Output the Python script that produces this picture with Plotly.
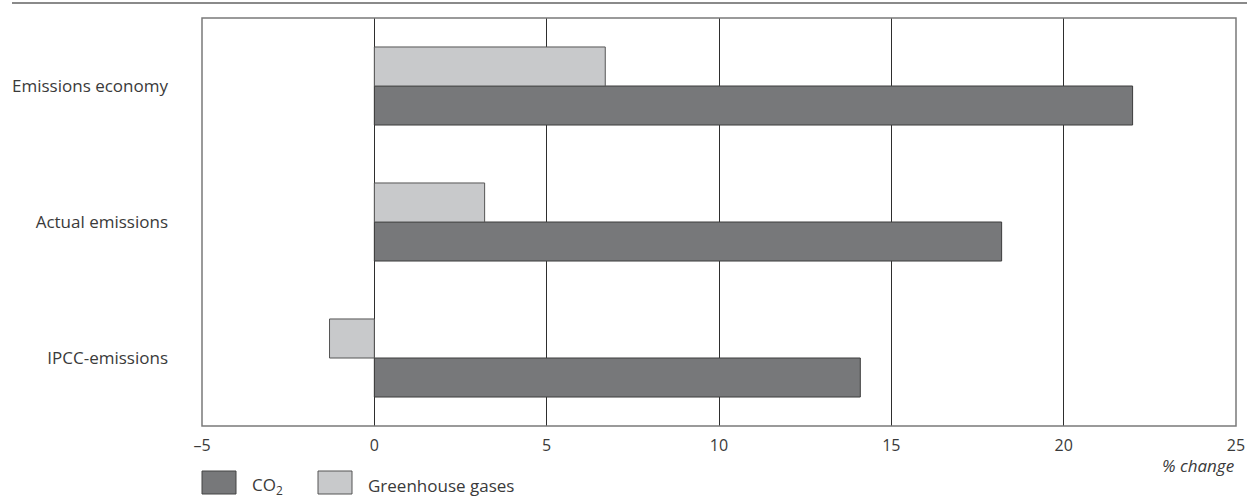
import plotly.graph_objects as go

categories = ["IPCC-emissions", "Actual emissions", "Emissions economy"]
co2_values = [14.1, 18.2, 22.0]
ghg_values = [-1.3, 3.2, 6.7]
x_tickvals = [-5, 0, 5, 10, 15, 20, 25]
x_ticktext = ["\u20135", "0", "5", "10", "15", "20", "25"]

CO2_COLOR = "#77787a"
GHG_COLOR = "#c8c9cb"
TEXT = "#3a3a3a"
FONT = "Open Sans"

fig = go.Figure()
fig.add_trace(go.Bar(
    y=categories, x=co2_values, orientation="h", name="CO<sub>2</sub>",
    marker=dict(color=CO2_COLOR, line=dict(color="#3c3c3c", width=1)),
    showlegend=False, hoverinfo="x+y",
))
fig.add_trace(go.Bar(
    y=categories, x=ghg_values, orientation="h", name="Greenhouse gases",
    marker=dict(color=GHG_COLOR, line=dict(color="#555555", width=1)),
    showlegend=False, hoverinfo="x+y",
))

W, H = 1247, 498
L, R, T, B = 202, 11, 18, 72
plot_h = H - T - B
plot_w = W - L - R

def px_x(x):
    return (x - L) / plot_w

def px_y(y):
    return (H - B - y) / plot_h

shapes = [
    # top rule
    dict(type="line", xref="paper", yref="paper", x0=px_x(12), x1=px_x(1247),
         y0=px_y(3), y1=px_y(3), line=dict(color="#8a8a8a", width=2)),
    # plot frame
    dict(type="rect", xref="paper", yref="paper", x0=0, x1=1, y0=0, y1=1,
         line=dict(color="#7a7a7a", width=1.5), layer="above"),
    # legend swatches
    dict(type="rect", xref="paper", yref="paper", x0=px_x(202), x1=px_x(236),
         y0=px_y(471), y1=px_y(494), fillcolor=CO2_COLOR,
         line=dict(color="#444444", width=1)),
    dict(type="rect", xref="paper", yref="paper", x0=px_x(318), x1=px_x(352),
         y0=px_y(471), y1=px_y(494), fillcolor=GHG_COLOR,
         line=dict(color="#555555", width=1)),
]

annotations = [
    dict(text="<i>% change</i>", xref="paper", yref="paper", x=1, y=px_y(465),
         xanchor="right", yanchor="middle", showarrow=False,
         font=dict(family=FONT, size=17, color=TEXT)),
    dict(text="CO<sub>2</sub>", xref="paper", yref="paper", x=px_x(250), y=px_y(485),
         xanchor="left", yanchor="middle", showarrow=False,
         font=dict(family=FONT, size=17, color=TEXT)),
    dict(text="Greenhouse gases", xref="paper", yref="paper", x=px_x(366), y=px_y(485),
         xanchor="left", yanchor="middle", showarrow=False,
         font=dict(family=FONT, size=17, color=TEXT)),
]

fig.update_layout(
    width=W, height=H,
    margin=dict(l=L, r=R, t=T, b=B, pad=0, autoexpand=False),
    paper_bgcolor="white", plot_bgcolor="white",
    barmode="group", bargap=0.426, bargroupgap=0,
    font=dict(family=FONT, size=16, color=TEXT),
    shapes=shapes, annotations=annotations,
    xaxis=dict(range=[-5, 25], tickvals=x_tickvals, ticktext=x_ticktext,
               showgrid=True, gridcolor="#2e2e2e", gridwidth=1,
               zeroline=True, zerolinecolor="#2e2e2e", zerolinewidth=1.2,
               showline=False, ticks="", ticklabelstandoff=8, automargin=False,
               tickfont=dict(family=FONT, size=16, color=TEXT), fixedrange=True),
    yaxis=dict(categoryorder="array", categoryarray=categories,
               showgrid=False, zeroline=False, showline=False, ticks="",
               ticklabelstandoff=33, automargin=False,
               tickfont=dict(family=FONT, size=17, color=TEXT), fixedrange=True),
)

post = (
    "document.documentElement.style.margin='0';"
    "document.documentElement.style.overflow='hidden';"
    "document.body.style.margin='0';"
    "document.body.style.overflow='hidden';"
    "var d=document.getElementById('{plot_id}');"
    "d.style.position='fixed';d.style.left='0px';d.style.top='0px';"
)
fig.write_html("out.html", config={"displayModeBar": False}, post_script=post)
